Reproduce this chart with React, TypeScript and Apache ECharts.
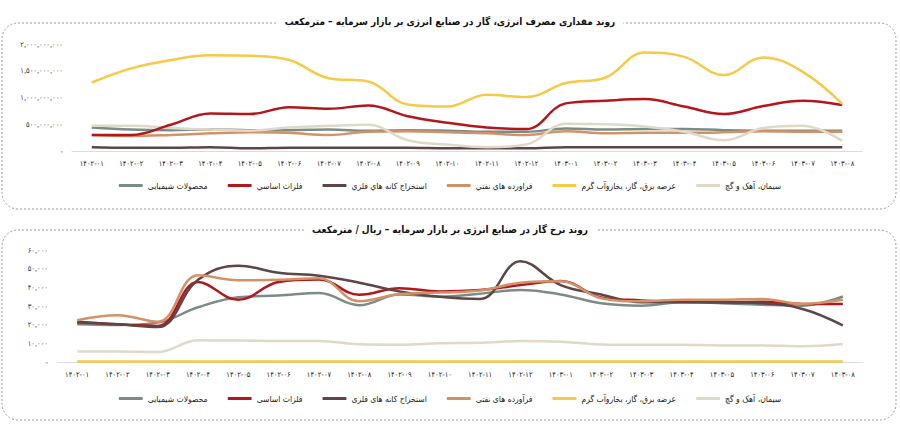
import React, { useEffect, useRef } from "react";
import * as echarts from "echarts";

const months = [
  "۱۴۰۲-۰۱", "۱۴۰۲-۰۲", "۱۴۰۲-۰۳", "۱۴۰۲-۰۴", "۱۴۰۲-۰۵", "۱۴۰۲-۰۶", "۱۴۰۲-۰۷",
  "۱۴۰۲-۰۸", "۱۴۰۲-۰۹", "۱۴۰۲-۱۰", "۱۴۰۲-۱۱", "۱۴۰۲-۱۲", "۱۴۰۳-۰۱", "۱۴۰۳-۰۲",
  "۱۴۰۳-۰۳", "۱۴۰۳-۰۴", "۱۴۰۳-۰۵", "۱۴۰۳-۰۶", "۱۴۰۳-۰۷", "۱۴۰۳-۰۸",
];

const titleTop = "روند مقداری مصرف انرژی، گاز در صنایع انرژی بر بازار سرمایه – مترمکعب";
const titleBottom = "روند نرخ گاز در صنایع انرژی بر بازار سرمایه – ریال / مترمکعب";

const namesTop = [
  "محصولات شیمیایی",
  "فلزات اساسي",
  "استخراج کانه هاي فلزي",
  "فراورده هاي نفتي",
  "عرضه برق، گاز، بخاروآب گرم",
  "سیمان، آهک و گچ",
];
const namesBottom = [
  "محصولات شیمیایی",
  "فلزات اساسی",
  "استخراج کانه های فلزی",
  "فرآورده های نفتی",
  "عرضه برق، گاز، بخاروآب گرم",
  "سیمان، آهک و گچ",
];

const colors = ["#7b8c85", "#b3161c", "#5f4547", "#d29268", "#f6c948", "#e1d8c8"];

// Volume (million cubic meters)
const volChemical = [440, 400, 390, 400, 390, 390, 400, 380, 390, 380, 360, 360, 420, 400, 410, 410, 390, 380, 380, 380];
const volMetals = [300, 300, 490, 700, 690, 820, 790, 850, 650, 530, 440, 410, 890, 940, 970, 830, 690, 840, 940, 860];
const volMining = [70, 60, 60, 70, 50, 60, 60, 60, 60, 50, 50, 50, 70, 70, 70, 70, 70, 70, 70, 70];
const volOil = [300, 280, 300, 330, 350, 340, 300, 360, 370, 350, 330, 300, 370, 330, 340, 340, 350, 370, 360, 360];
const volPower = [1280, 1545, 1700, 1790, 1780, 1700, 1360, 1300, 870, 830, 1050, 1010, 1270, 1370, 1840, 1760, 1420, 1750, 1480, 880];
const volCement = [470, 470, 430, 400, 380, 440, 470, 490, 200, 120, 70, 120, 510, 500, 460, 360, 200, 430, 470, 190];

// Rate (thousand rials per cubic meter)
const rateChemical = [20.2, 19.8, 21.1, 29.3, 34.7, 35.6, 36.9, 30.4, 36.2, 35, 36.6, 38.6, 36.2, 31.5, 30.2, 32, 31.5, 30.7, 30.2, 35.1];
const rateMetals = [21.6, 20.2, 19.3, 42.9, 33.3, 42.9, 44.2, 36, 39.5, 37.8, 38.6, 41.2, 43.4, 34.6, 33, 32, 32, 32.3, 31.1, 31.1];
const rateMining = [21.1, 20.2, 18.7, 44, 51.6, 47.8, 46.2, 42.5, 37.8, 35, 33.8, 54, 41.2, 36.2, 32, 32.4, 32, 31.5, 28.4, 19.6];
const rateOil = [22.4, 25.1, 21.6, 46.5, 43.8, 44, 44.8, 32.5, 36.4, 37.2, 38.3, 42.4, 43.2, 34.2, 32.5, 33.3, 33.3, 33.8, 31.1, 33.3];
const ratePower = [0.3, 0.3, 0.3, 0.3, 0.3, 0.3, 0.3, 0.3, 0.3, 0.3, 0.3, 0.3, 0.3, 0.3, 0.3, 0.3, 0.3, 0.3, 0.3, 0.3];
const rateCement = [5.6, 5.6, 5.3, 11.6, 11.5, 11.3, 11.3, 9.5, 9.3, 10, 10.3, 11.2, 10.9, 9.4, 9.2, 9.2, 8.9, 8.9, 8.4, 9.6];

const FONT = "'DejaVu Sans Condensed', 'DejaVu Sans'";

const faDigits = (s: string) => s.replace(/[0-9]/g, (d) => "۰۱۲۳۴۵۶۷۸۹"[Number(d)]);
const fmt = (v: number) => (v === 0 ? "-" : faDigits(Math.round(v).toLocaleString("en-US")));

export default function App() {
  const ref = useRef<HTMLDivElement>(null);
  useEffect(() => {
    if (!ref.current) return;
    const chart = echarts.init(ref.current, undefined, { renderer: "svg" });
    const volSets = [volChemical, volMetals, volMining, volOil, volPower, volCement];
    const rateSets = [rateChemical, rateMetals, rateMining, rateOil, ratePower, rateCement];
    const seriesTop = volSets.map((d, i) => ({
      name: namesTop[i],
      type: "line",
      xAxisIndex: 0,
      yAxisIndex: 0,
      smooth: 0.4,
      symbol: "none",
      data: d.map((v) => v * 1e6),
      lineStyle: { width: 2.5, color: colors[i] },
      itemStyle: { color: colors[i] },
      z: [2, 3, 2, 2, 4, 2][i],
    }));
    const seriesBottom = rateSets.map((d, i) => ({
      name: namesBottom[i],
      type: "line",
      xAxisIndex: 1,
      yAxisIndex: 1,
      smooth: 0.4,
      symbol: "none",
      data: d.map((v) => v * 1000),
      lineStyle: { width: 2.5, color: colors[i] },
      itemStyle: { color: colors[i] },
    }));
    const xAxisBase = {
      type: "category",
      data: months,
      boundaryGap: true,
      axisLine: { lineStyle: { color: "#dcdcdc", width: 1 } },
      axisTick: { show: false },
      axisLabel: { color: "#222", fontSize: 7.5, fontFamily: FONT, margin: 8, interval: 0 },
    };
    const yAxisBase = {
      type: "value",
      axisLine: { show: false },
      axisTick: { show: false },
      splitLine: { show: false },
      axisLabel: { color: "#3a3a3a", fontSize: 7.5, fontFamily: FONT, margin: 9, formatter: (v: number) => fmt(v) },
    };
    const legendBase = {
      icon: "roundRect",
      itemWidth: 24,
      itemHeight: 3,
      itemGap: 20,
      left: "center",
      textStyle: { color: "#222", fontSize: 8.5, fontFamily: FONT },
    };
    const titleBase = {
      left: "center",
      backgroundColor: "#fff",
      padding: [2, 8],
      z: 10,
      textStyle: { color: "#111", fontSize: 10, fontWeight: "bold", fontFamily: FONT },
    };
    chart.setOption({
      animation: false,
      backgroundColor: "#fff",
      title: [
        { ...titleBase, text: titleTop, top: 14 },
        { ...titleBase, text: titleBottom, top: 222 },
      ],
      legend: [
        { ...legendBase, data: namesTop, top: 176 },
        { ...legendBase, data: namesBottom, top: 389 },
      ],
      grid: [
        { left: 72, right: 38, top: 44, height: 107 },
        { left: 57, right: 37, top: 250, height: 112 },
      ],
      xAxis: [
        { ...xAxisBase, gridIndex: 0 },
        { ...xAxisBase, gridIndex: 1 },
      ],
      yAxis: [
        { ...yAxisBase, gridIndex: 0, min: 0, max: 2000000000, interval: 500000000 },
        { ...yAxisBase, gridIndex: 1, min: 0, max: 60000, interval: 10000 },
      ],
      graphic: [
        {
          type: "rect",
          z: 0,
          shape: { x: 2, y: 23, width: 894, height: 186, r: 16 },
          style: { fill: "none", stroke: "#9a9a9a", lineWidth: 1, lineDash: [2, 2] },
        },
        {
          type: "rect",
          z: 0,
          shape: { x: 2, y: 230, width: 894, height: 190, r: 16 },
          style: { fill: "none", stroke: "#9a9a9a", lineWidth: 1, lineDash: [2, 2] },
        },
      ],
      series: [...seriesTop, ...seriesBottom],
    });
    return () => chart.dispose();
  }, []);
  return (
    <div
      ref={ref}
      style={{ position: "absolute", left: 0, top: 0, width: 900, height: 427 }}
    />
  );
}
